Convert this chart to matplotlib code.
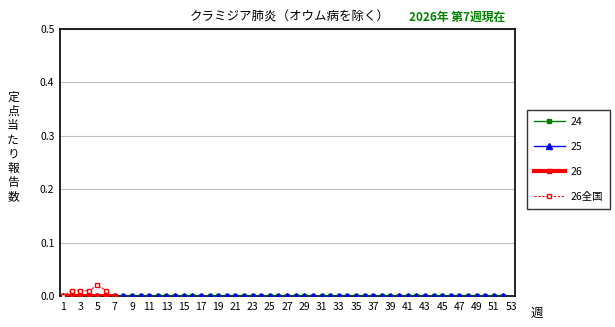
import matplotlib
matplotlib.use("Agg")
import matplotlib.pyplot as plt
import numpy as np

plt.rcParams['font.family'] = ['Noto Sans CJK JP', 'DejaVu Sans']

weeks_24 = list(range(1, 53))
vals_24 = [0.0] * 52
weeks_25 = list(range(1, 53))
vals_25 = [0.0] * 52
weeks_26 = list(range(1, 8))
vals_26 = [0.0] * 7
weeks_26n = list(range(1, 7))
vals_26n = [0.0, 0.01, 0.01, 0.01, 0.02, 0.01]

xticks = list(range(1, 54, 2))
yticks = [0.0, 0.1, 0.2, 0.3, 0.4, 0.5]
ylabel_chars = list('定点当たり報告数')

fig = plt.figure(figsize=(6.15, 3.27), dpi=100)
ax = fig.add_axes([60/615, 31/327, 455/615, 267/327])

ax.plot(weeks_24, vals_24, color='#008000', lw=1, marker='s', ms=3, label='24', zorder=3)
ax.plot(weeks_25, vals_25, color='#0000FF', lw=1, marker='^', ms=4, label='25', zorder=4)
ax.plot(weeks_26, vals_26, color='#FF0000', lw=3, marker='s', ms=3, label='26', zorder=5)
ax.plot(weeks_26n, vals_26n, color='#FF0000', lw=0.8, ls=(0, (2, 1.5)), marker='s', ms=3.5,
        mfc='white', mec='#FF0000', label='26全国', zorder=6)

ax.set_xlim(0.65, 53.45)
ax.set_ylim(0, 0.5)
ax.set_xticks(xticks)
ax.set_xticklabels([str(x) for x in xticks], fontsize=7.5)
ax.set_yticks(yticks)
ax.set_yticklabels([f"{y:.1f}" for y in yticks], fontsize=7.5)
ax.tick_params(length=0, pad=4)
ax.yaxis.grid(True, color='#C0C0C0', lw=0.8)
ax.set_axisbelow(True)
for s in ax.spines.values():
    s.set_color('black')
    s.set_linewidth(1.2)

fig.text(290/615, 1 - 17/327, 'クラミジア肺炎（オウム病を除く）', ha='center', va='center', fontsize=9)
fig.text(457/615, 1 - 17/327, '2026年 第7週現在', ha='center', va='center', fontsize=8.5,
         color='#008000', fontweight='bold')
for i, ch in enumerate(ylabel_chars):
    fig.text(13/615, 1 - (97 + i * 14.3)/327, ch, ha='center', va='center', fontsize=8.5)
fig.text(537/615, 1 - 313/327, '週', ha='center', va='center', fontsize=9)

leg = fig.legend(loc='upper left', bbox_to_anchor=(527/615, 1 - 110/327), fontsize=7.5,
                 frameon=True, fancybox=False, edgecolor='black', handlelength=3.0,
                 handletextpad=0.5, labelspacing=1.45, borderpad=0.65, borderaxespad=0)
leg.get_frame().set_linewidth(1.0)

fig.savefig('out.png', dpi=100)
